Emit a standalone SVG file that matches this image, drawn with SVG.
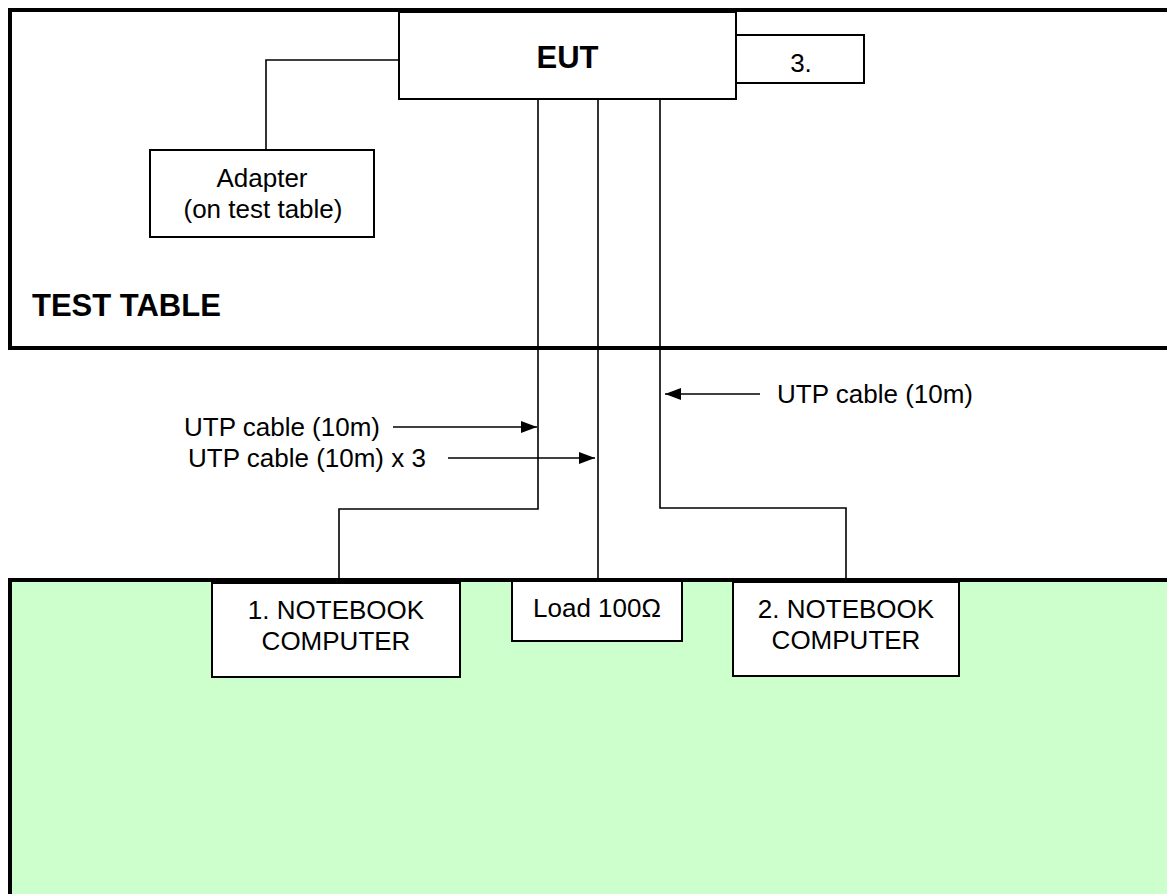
<svg xmlns="http://www.w3.org/2000/svg" width="1167" height="894" viewBox="0 0 1167 894">
  <style>
    .box { fill: #ffffff; stroke: #000000; stroke-width: 2; }
    .area { stroke: #000000; stroke-width: 4; }
    .wire { fill: none; stroke: #000000; stroke-width: 1.6; }
    .t { font-family: "Liberation Sans", Arial, sans-serif; font-size: 26px; fill: #000000; }
    .tb { font-family: "Liberation Sans", Arial, sans-serif; font-size: 31px; font-weight: bold; fill: #000000; }
    .mid { text-anchor: middle; }
  </style>
  <defs>
    <marker id="ah" viewBox="0 0 16 12" refX="16" refY="6" markerWidth="16" markerHeight="12" markerUnits="userSpaceOnUse" orient="auto">
      <path d="M0,0 L16,6 L0,12 Z" fill="#000000"/>
    </marker>
  </defs>
  <rect x="0" y="0" width="1167" height="894" fill="#ffffff"/>

  <g id="test-table">
    <rect class="area" x="10" y="10" width="1200" height="338" fill="#ffffff"/>
    <text class="tb" x="32" y="316">TEST TABLE</text>
  </g>

  <g id="floor">
    <rect class="area" x="10" y="580" width="1200" height="400" fill="#ccffcc"/>
  </g>

  <g id="connectors">
    <polyline class="wire" points="399,60 266,60 266,150"/>
    <polyline class="wire" points="538,99 538,509 339,509 339,580"/>
    <polyline class="wire" points="598,99 598,580"/>
    <polyline class="wire" points="660,99 660,508 846,508 846,580"/>
    <line class="wire" x1="393" y1="427" x2="537" y2="427" marker-end="url(#ah)"/>
    <line class="wire" x1="448" y1="458" x2="595" y2="458" marker-end="url(#ah)"/>
    <line class="wire" x1="760" y1="394" x2="665" y2="394" marker-end="url(#ah)"/>
  </g>

  <g id="eut">
    <rect class="box" x="399" y="12" width="337" height="87"/>
    <text class="tb mid" x="567.5" y="68">EUT</text>
  </g>

  <g id="item3">
    <rect class="box" x="736" y="35" width="128" height="48"/>
    <text class="t mid" x="801" y="72">3.</text>
  </g>

  <g id="adapter">
    <rect class="box" x="150" y="150" width="224" height="87"/>
    <text class="t mid" x="262" y="187">Adapter</text>
    <text class="t mid" x="263" y="218">(on test table)</text>
  </g>

  <g id="labels">
    <text class="t" x="380" y="436" text-anchor="end">UTP cable (10m)</text>
    <text class="t" x="188" y="467">UTP cable (10m) x 3</text>
    <text class="t" x="777" y="403">UTP cable (10m)</text>
  </g>

  <g id="notebook1">
    <rect class="box" x="212" y="583" width="248" height="94"/>
    <text class="t mid" x="336" y="619">1. NOTEBOOK</text>
    <text class="t mid" x="336" y="650">COMPUTER</text>
  </g>

  <g id="load">
    <rect class="box" x="512" y="581" width="170" height="60"/>
    <text class="t mid" x="597" y="617">Load 100Ω</text>
  </g>

  <g id="notebook2">
    <rect class="box" x="733" y="582" width="226" height="94"/>
    <text class="t mid" x="846" y="618">2. NOTEBOOK</text>
    <text class="t mid" x="846" y="649">COMPUTER</text>
  </g>
</svg>
